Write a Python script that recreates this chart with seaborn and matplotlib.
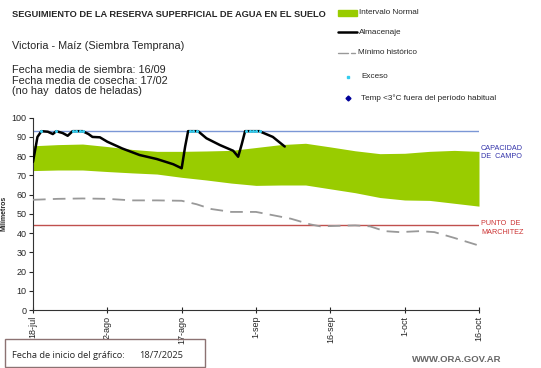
import numpy as np
import pandas as pd
import matplotlib
matplotlib.use("Agg")
import matplotlib.pyplot as plt
import seaborn as sns
from matplotlib.lines import Line2D
from matplotlib.patches import Rectangle

# ---------------- data ----------------
tick_days = [0, 15, 30, 45, 60, 75, 90]
tick_labels = ["18-jul", "2-ago", "17-ago", "1-sep", "16-sep", "1-oct", "16-oct"]

band_days = [0, 5, 10, 15, 20, 25, 30, 35, 40, 45, 50, 55, 60, 65, 70, 75, 80, 85, 90]
band_upper = [85.4, 86.0, 86.3, 85.0, 83.5, 82.5, 82.5, 82.7, 83.0, 84.5, 86.0, 86.7,
              84.8, 82.8, 81.3, 81.5, 82.5, 83.0, 82.5]
band_lower = [72.5, 72.8, 72.8, 72.0, 71.3, 70.7, 69.0, 67.6, 66.0, 64.8, 65.0, 65.0,
              63.0, 61.0, 58.5, 57.2, 57.0, 55.5, 54.0]

min_days = [0, 5, 10, 15, 20, 25, 30, 33, 36, 40, 45, 48, 52, 56, 58, 62, 65, 68, 71,
            74, 78, 81, 85, 90]
min_vals = [57.3, 57.8, 58.0, 57.8, 57.0, 57.0, 56.8, 55.0, 52.5, 51.0, 51.0, 49.5,
            47.5, 44.5, 43.5, 43.8, 44.0, 43.5, 41.0, 40.5, 41.0, 40.5, 37.5, 33.5]

stor_days = [0, 0.9, 1.7, 3, 4, 4.7, 6, 7, 8, 10, 11.2, 12, 13.5, 15, 18, 21.5, 25,
             28.3, 30, 30.7, 31.3, 33.3, 35, 37.7, 40.4, 41.4, 42.1, 42.8, 45.8, 46.1,
             48.4, 50.8]
stor_vals = [77, 90, 93, 92.7, 91.5, 93, 92, 90.6, 93, 93, 91.5, 90, 89.8, 87.5, 84,
             80.6, 78.5, 75.8, 73.7, 85, 93, 93, 89.3, 85.8, 82.8, 79.7, 86, 93, 93,
             92.5, 90, 85]

exc_days = [1.7, 4.7, 8.0, 8.7, 9.4, 10.0, 31.7, 32.3, 33.0, 43.0, 43.7, 44.4, 45.1, 45.8]
exc_vals = [93] * len(exc_days)

capacidad = 93
marchitez = 44

# ---------------- figure ----------------
sns.set_style("ticks")
plt.rcParams["font.family"] = ["Liberation Sans", "DejaVu Sans"]

W, H = 541, 368
fig = plt.figure(figsize=(W / 100, H / 100), dpi=100)
ax = fig.add_axes([33 / W, (H - 310) / H, (479 - 33) / W, (310 - 117.7) / H])

band = pd.DataFrame({"d": band_days, "lo": band_lower, "hi": band_upper})
ax.fill_between(band["d"], band["lo"], band["hi"], color="#99cc00", lw=0, zorder=1)

ax.axhline(capacidad, color="#7b97d6", lw=1.0, zorder=2)
ax.axhline(marchitez, color="#c0504d", lw=1.0, zorder=2)

mdf = pd.DataFrame({"d": min_days, "v": min_vals})
sns.lineplot(data=mdf, x="d", y="v", ax=ax, color="#999999", lw=1.3,
             linestyle=(0, (7, 4)), zorder=3)

sdf = pd.DataFrame({"d": stor_days, "v": stor_vals})
sns.lineplot(data=sdf, x="d", y="v", ax=ax, color="black", lw=1.8, zorder=4)

edf = pd.DataFrame({"d": exc_days, "v": exc_vals})
sns.scatterplot(data=edf, x="d", y="v", ax=ax, color="#33ccee", s=5, marker="o",
                linewidth=0, zorder=5)

ax.set_xlim(0, 90)
ax.set_ylim(0, 100)
ax.set_yticks(range(0, 101, 10))
ax.set_xticks(tick_days)
ax.set_xticklabels(tick_labels, rotation=90, fontsize=6.5)
ax.tick_params(axis="y", labelsize=6.5, length=3, width=0.8, pad=1.5)
ax.tick_params(axis="x", direction="inout", length=5, width=0.8, pad=1.5)
for s in ["top", "right"]:
    ax.spines[s].set_visible(False)
for s in ["left", "bottom"]:
    ax.spines[s].set_linewidth(0.8)
    ax.spines[s].set_color("#333333")
ax.set_xlabel("")
ax.set_ylabel("Milímetros", fontsize=5, fontweight="bold", labelpad=2)
ax.yaxis.set_label_coords(-0.058, 0.5)

# right labels
fig.text(481 / W, 1 - 145 / H, "CAPACIDAD\nDE  CAMPO", color="#3333aa", fontsize=5.2,
         va="top", linespacing=1.3)
fig.text(481 / W, 1 - 220 / H, "PUNTO  DE\nMARCHITEZ", color="#cc3333", fontsize=5.2,
         va="top", linespacing=1.3)

# header texts
fig.text(12 / W, 1 - 14.5 / H, "SEGUIMIENTO DE LA RESERVA SUPERFICIAL DE AGUA EN EL SUELO",
         fontsize=6.7, fontweight="bold", va="center")
fig.text(12 / W, 1 - 46 / H, "Victoria - Maíz (Siembra Temprana)", fontsize=7.8, va="center")
fig.text(12 / W, 1 - 70 / H, "Fecha media de siembra: 16/09", fontsize=7.8, va="center")
fig.text(12 / W, 1 - 81 / H, "Fecha media de cosecha: 17/02", fontsize=7.8, va="center")
fig.text(12 / W, 1 - 91 / H, "(no hay  datos de heladas)", fontsize=7.8, va="center")

# legend (manual)
fig.patches.append(Rectangle((338 / W, 1 - 15.5 / H), 19 / W, 5 / H, color="#99cc00",
                             transform=fig.transFigure))
fig.text(359 / W, 1 - 12.7 / H, "Intervalo Normal", fontsize=5.9, va="center")
fig.lines.append(Line2D([338 / W, 357 / W], [1 - 32 / H] * 2, color="black", lw=1.8,
                        transform=fig.transFigure))
fig.text(359 / W, 1 - 32 / H, "Almacenaje", fontsize=5.9, va="center")
fig.lines.append(Line2D([338 / W, 348 / W], [1 - 53 / H] * 2, color="#999999", lw=1.0,
                        transform=fig.transFigure))
fig.lines.append(Line2D([351 / W, 355 / W], [1 - 53 / H] * 2, color="#999999", lw=1.0,
                        transform=fig.transFigure))
fig.text(358 / W, 1 - 53 / H, "Mínimo histórico", fontsize=5.9, va="center")
fig.lines.append(Line2D([348 / W], [1 - 77 / H], marker="s", ms=2, color="#33ccee", lw=0,
                        transform=fig.transFigure))
fig.text(361 / W, 1 - 77 / H, "Exceso", fontsize=5.9, va="center")
fig.lines.append(Line2D([348 / W], [1 - 98 / H], marker="D", ms=2.5, color="#000099", lw=0,
                        transform=fig.transFigure))
fig.text(361 / W, 1 - 98 / H, "Temp <3°C fuera del período habitual", fontsize=5.9,
         va="center")

# bottom box
fig.patches.append(Rectangle((5 / W, 1 - 367 / H), 200 / W, 28 / H, fill=False,
                             edgecolor="#8c7272", lw=1.0, transform=fig.transFigure))
fig.text(12 / W, 1 - 356 / H, "Fecha de inicio del gráfico:", fontsize=6.7,
         family=["Open Sans", "DejaVu Sans"], va="center")
fig.text(139 / W, 1 - 356 / H, "18/7/2025", fontsize=6.7,
         family=["Open Sans", "DejaVu Sans"], va="center")
fig.text(501 / W, 1 - 360 / H, "WWW.ORA.GOV.AR", fontsize=6.8, fontweight="bold",
         color="#666666", ha="right", va="center")

fig.savefig("out.png", dpi=100)
